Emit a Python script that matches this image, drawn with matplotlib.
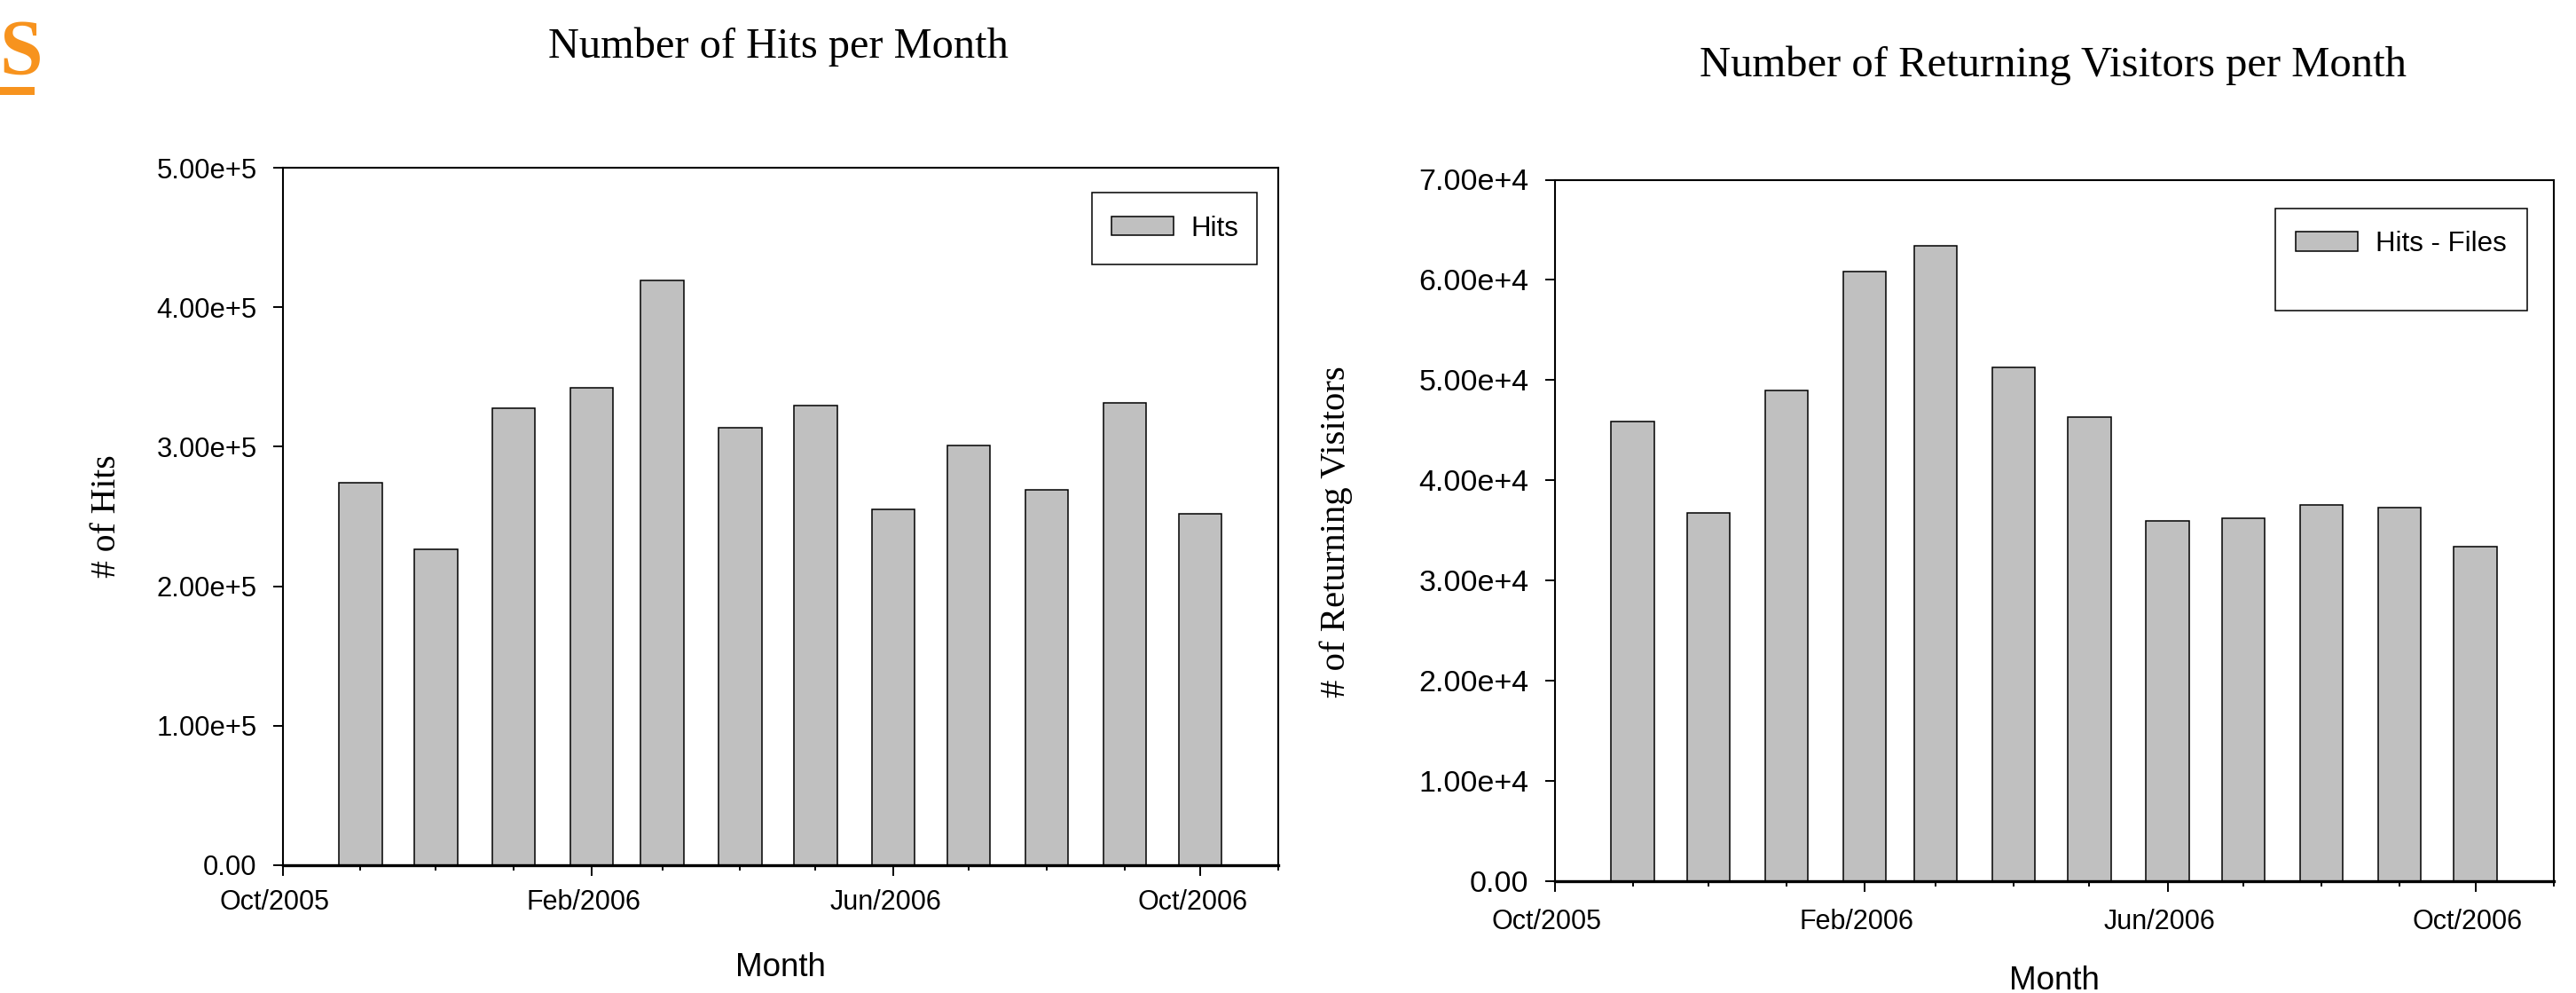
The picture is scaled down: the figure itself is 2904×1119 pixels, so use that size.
import datetime
import numpy as np
import pandas as pd
import matplotlib
matplotlib.use("Agg")
import matplotlib.pyplot as plt
import matplotlib.dates as mdates
from matplotlib.patches import Rectangle
from matplotlib.transforms import ScaledTranslation

# ---------------- data ----------------
months = ["2005-11", "2005-12", "2006-01", "2006-02", "2006-03", "2006-04",
          "2006-05", "2006-06", "2006-07", "2006-08", "2006-09", "2006-10"]
hits = [2.742e5, 2.267e5, 3.276e5, 3.424e5, 4.19e5, 3.134e5,
        3.295e5, 2.551e5, 3.011e5, 2.693e5, 3.312e5, 2.519e5]
returning = [4.59e4, 3.68e4, 4.90e4, 6.08e4, 6.34e4, 5.128e4,
             4.63e4, 3.595e4, 3.625e4, 3.76e4, 3.728e4, 3.34e4]
xtick_dates = ["2005-10-01", "2006-02-01", "2006-06-01", "2006-10-01"]
xtick_labels = ["Oct/2005", "Feb/2006", "Jun/2006", "Oct/2006"]
x_range = ["2005-10-01", "2006-11-01"]
hits_yticks = [0, 1e5, 2e5, 3e5, 4e5, 5e5]
ret_yticks = [0, 1e4, 2e4, 3e4, 4e4, 5e4, 6e4, 7e4]

W, H = 2904, 1119
DPI = 100
fig = plt.figure(figsize=(W / DPI, H / DPI), dpi=DPI)
fig.patch.set_facecolor("white")

def fx(px):
    return px / W

def fy(py):
    return 1 - py / H

SANS = "Liberation Sans"
SERIF = "Liberation Serif"
BAR_COLOR = "#C0C0C0"

def sci_label(v):
    if v == 0:
        return "0.00"
    e = int(np.floor(np.log10(abs(v))))
    m = v / 10 ** e
    return f"{m:.2f}e+{e}"

def setup_axes(ax, values, yticks, ymax, legend_label, leg_patch_x, leg_patch_yc,
               frame_box, xpad, ytick_fs):
    dates = pd.to_datetime(months)
    bars = ax.bar(dates, values, width=datetime.timedelta(days=17),
                  color=BAR_COLOR, edgecolor="black", linewidth=1.1, zorder=2)
    ax.set_xlim(pd.Timestamp(x_range[0]), pd.Timestamp(x_range[1]))
    ax.set_ylim(0, ymax)
    ax.set_yticks(yticks)
    ax.set_yticklabels([sci_label(v) for v in yticks], fontfamily=SANS, fontsize=ytick_fs)
    ax.set_xticks(pd.to_datetime(xtick_dates))
    ax.set_xticklabels(xtick_labels, fontfamily=SANS, fontsize=22)
    ax.xaxis.set_minor_locator(mdates.MonthLocator())
    for s in ["top", "left", "right"]:
        ax.spines[s].set_linewidth(1.5)
    ax.spines["bottom"].set_linewidth(2.4)
    ax.tick_params(axis="y", direction="out", length=7.9, width=1.4, pad=13)
    ax.tick_params(axis="x", which="major", direction="out", length=8.4, width=1.4, pad=xpad)
    ax.tick_params(axis="x", which="minor", direction="out", length=4.3, width=1.4)
    for t in ax.xaxis.get_major_ticks():
        t.label1.set_transform(t.label1.get_transform()
                               + ScaledTranslation(-9 / DPI, 0, fig.dpi_scale_trans))
    # legend frame
    x0, y0, x1, y1 = frame_box
    rect = Rectangle((fx(x0), fy(y1)), fx(x1) - fx(x0), fy(y0) - fy(y1),
                     transform=fig.transFigure, facecolor="white", edgecolor="black",
                     linewidth=1.1, zorder=4, clip_on=False)
    ax.add_patch(rect)
    fs = 22.5
    fpx = fs * DPI / 72
    ax.legend([bars], [legend_label], loc="center left",
              bbox_to_anchor=(fx(leg_patch_x), fy(leg_patch_yc)),
              bbox_transform=fig.transFigure, frameon=False, borderpad=0,
              borderaxespad=0, handlelength=70.6 / fpx, handleheight=21.6 / fpx,
              handletextpad=19.4 / fpx,
              prop={"family": SANS, "size": fs})
    return bars

# ---------------- left chart ----------------
ax1 = fig.add_axes([fx(318.6), fy(975), fx(1441) - fx(318.6), fy(189) - fy(975)])
setup_axes(ax1, hits, hits_yticks, 5e5, "Hits", 1252.7, 257.5,
           (1230.7, 217.3, 1417.3, 298.3), xpad=11, ytick_fs=22.3)
fig.text(fx(877), fy(65), "Number of Hits per Month", family=SERIF, fontsize=34.8,
         ha="center", va="baseline")
fig.text(fx(121), fy(582), "# of Hits", family=SERIF, fontsize=28.5, rotation=90,
         ha="center", va="center")
fig.text(fx(880), fy(1100), "Month", family=SANS, fontsize=26.5, ha="center",
         va="baseline")

# ---------------- right chart ----------------
ax2 = fig.add_axes([fx(1752.5), fy(993.3), fx(2878.7) - fx(1752.5), fy(202.5) - fy(993.3)])
setup_axes(ax2, returning, ret_yticks, 7e4, "Hits - Files", 2587.7, 275,
           (2565, 235, 2849.3, 350.3), xpad=14, ytick_fs=24.5)
fig.text(fx(2315), fy(86), "Number of Returning Visitors per Month", family=SERIF,
         fontsize=35, ha="center", va="baseline")
fig.text(fx(1506), fy(599), "# of Returning Visitors", family=SERIF, fontsize=29.3,
         rotation=90, ha="center", va="center")
fig.text(fx(2316), fy(1115), "Month", family=SANS, fontsize=26.5, ha="center",
         va="baseline")

# ---------------- orange logo fragment ----------------
ORANGE = "#F7931E"
fig.text(fx(-1), fy(83), "S", family=SERIF, fontweight="bold", fontsize=63,
         color=ORANGE, ha="left", va="baseline")
fig.add_artist(Rectangle((fx(0), fy(107.3)), fx(39), fy(97.7) - fy(107.3),
                         transform=fig.transFigure, facecolor=ORANGE,
                         edgecolor="none"))

fig.savefig("out.png", dpi=DPI, facecolor="white")
